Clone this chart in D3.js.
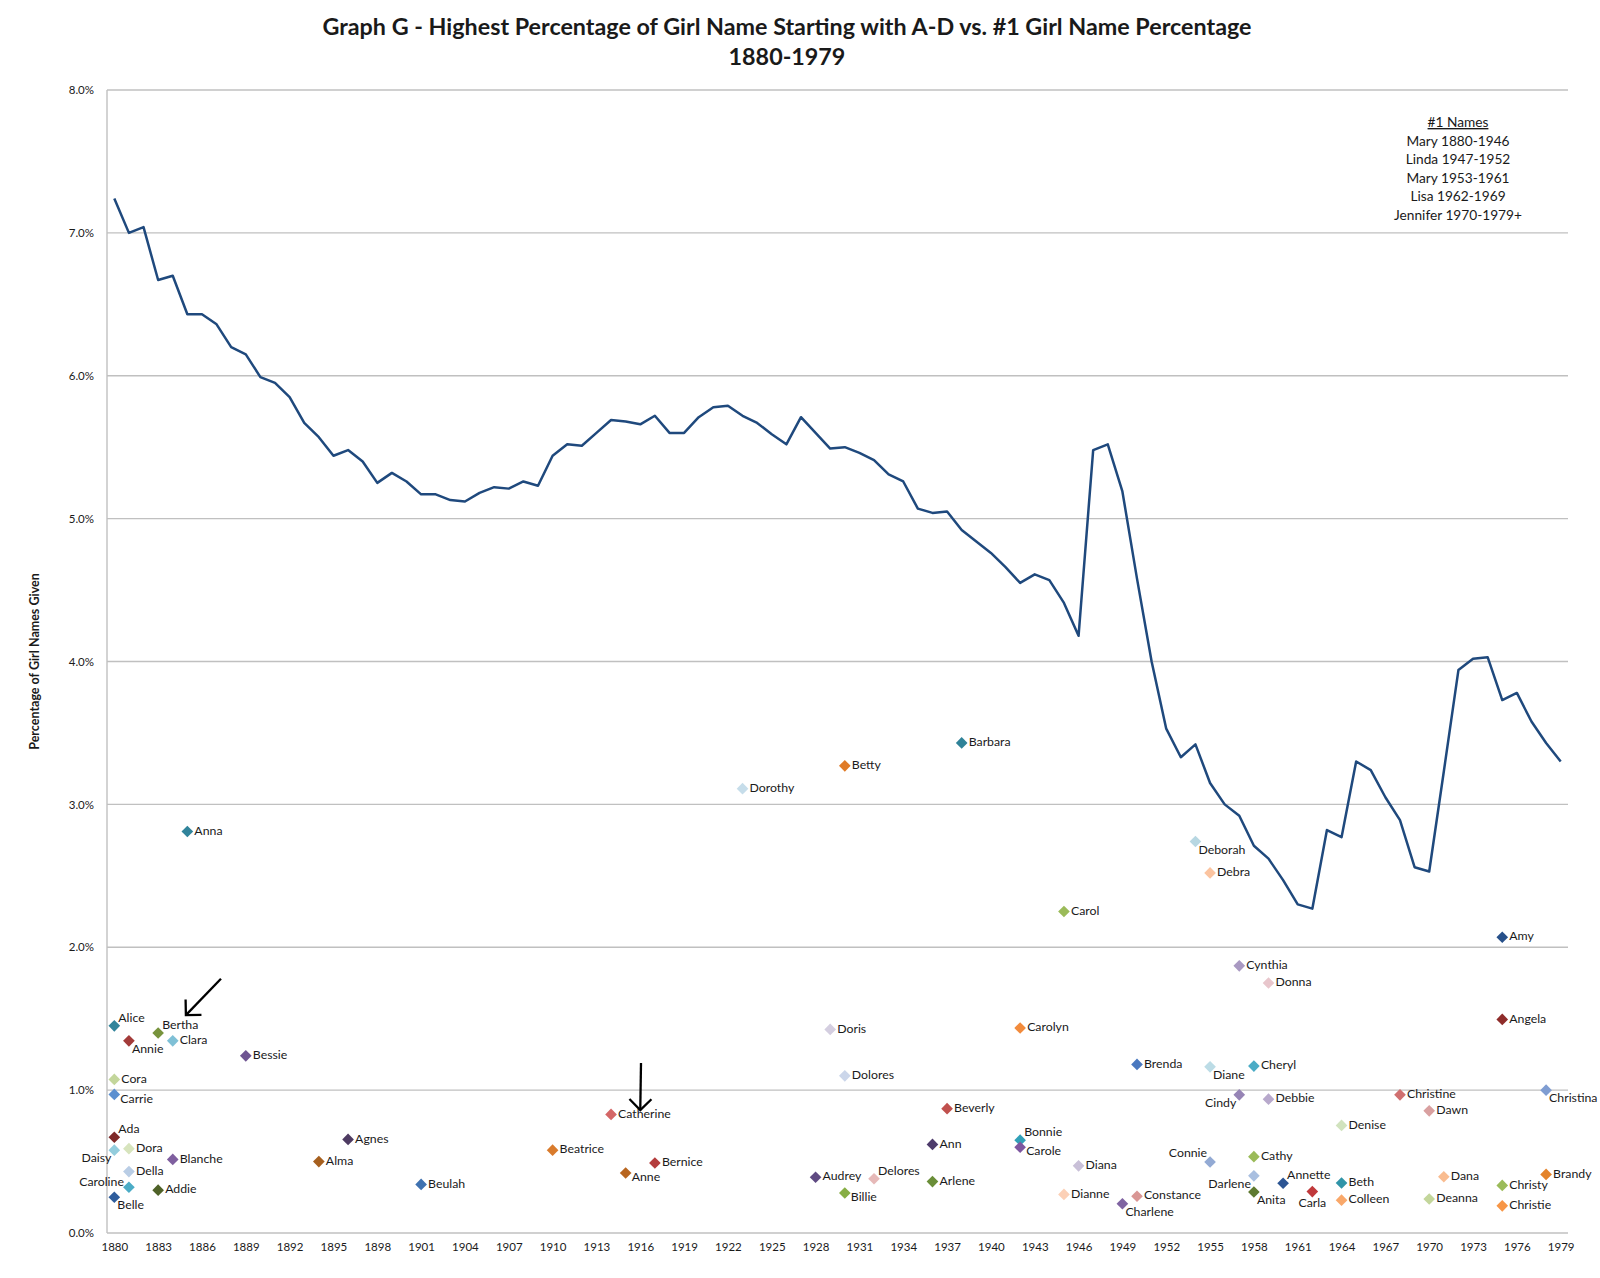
<!DOCTYPE html>
<html lang="en">

<head>
    <meta charset="utf-8">
    <script src="https://d3js.org/d3.v7.min.js"></script>
    <style>
        body { margin: 0; background: #fff; }
        text { font-family: Lato, "Open Sans", sans-serif; fill: #1a1a1a; }
    </style>
</head>

<body>
    <script>
        // #1 girl name share of all girl names, one value per year 1880-1979
        const lineYears = d3.range(1880, 1980);
        const topPct = [
            7.24, 7.00, 7.04, 6.67, 6.70, 6.43, 6.43, 6.36, 6.20, 6.15,
            5.99, 5.95, 5.85, 5.67, 5.57, 5.44, 5.48, 5.40, 5.25, 5.32,
            5.26, 5.17, 5.17, 5.13, 5.12, 5.18, 5.22, 5.21, 5.26, 5.23,
            5.44, 5.52, 5.51, 5.60, 5.69, 5.68, 5.66, 5.72, 5.60, 5.60,
            5.71, 5.78, 5.79, 5.72, 5.67, 5.59, 5.52, 5.71, 5.60, 5.49,
            5.50, 5.46, 5.41, 5.31, 5.26, 5.07, 5.04, 5.05, 4.92, 4.84,
            4.76, 4.66, 4.55, 4.61, 4.57, 4.41, 4.18, 5.48, 5.52, 5.19,
            4.58, 4.00, 3.53, 3.33, 3.42, 3.15, 3.00, 2.92, 2.71, 2.62,
            2.47, 2.30, 2.27, 2.82, 2.77, 3.30, 3.24, 3.05, 2.89, 2.56,
            2.53, 3.23, 3.94, 4.02, 4.03, 3.73, 3.78, 3.58, 3.43, 3.30
        ];

        // A-D names at their peak year
        const peakNames = ['Alice', 'Ada', 'Belle', 'Carrie', 'Cora', 'Daisy', 'Annie', 'Dora', 'Della', 'Caroline',
            'Bertha', 'Addie', 'Clara', 'Blanche', 'Anna', 'Bessie', 'Alma', 'Agnes', 'Beulah', 'Beatrice',
            'Catherine', 'Anne', 'Bernice', 'Dorothy', 'Audrey', 'Doris', 'Betty', 'Dolores', 'Billie', 'Delores',
            'Ann', 'Arlene', 'Beverly', 'Barbara', 'Bonnie', 'Carole', 'Carolyn', 'Carol', 'Dianne', 'Diana',
            'Charlene', 'Brenda', 'Constance', 'Deborah', 'Debra', 'Diane', 'Connie', 'Cynthia', 'Cindy', 'Cheryl',
            'Cathy', 'Darlene', 'Anita', 'Donna', 'Debbie', 'Annette', 'Carla', 'Denise', 'Beth', 'Colleen',
            'Christine', 'Dawn', 'Deanna', 'Dana', 'Amy', 'Angela', 'Christy', 'Christie', 'Christina', 'Brandy'];
        const peakYears = [1880, 1880, 1880, 1880, 1880, 1880, 1881, 1881, 1881, 1881,
            1883, 1883, 1884, 1884, 1885, 1889, 1894, 1896, 1901, 1910,
            1914, 1915, 1917, 1923, 1928, 1929, 1930, 1930, 1930, 1932,
            1936, 1936, 1937, 1938, 1942, 1942, 1942, 1945, 1945, 1946,
            1949, 1950, 1950, 1954, 1955, 1955, 1955, 1957, 1957, 1958,
            1958, 1958, 1958, 1959, 1959, 1960, 1962, 1964, 1964, 1964,
            1968, 1970, 1970, 1971, 1975, 1975, 1975, 1975, 1978, 1978];
        const peakPct = [1.45, 0.67, 0.25, 0.97, 1.075, 0.58, 1.345, 0.59, 0.43, 0.32,
            1.40, 0.30, 1.345, 0.515, 2.81, 1.24, 0.50, 0.655, 0.34, 0.58,
            0.83, 0.42, 0.49, 3.11, 0.39, 1.425, 3.27, 1.10, 0.28, 0.38,
            0.62, 0.36, 0.87, 3.43, 0.65, 0.60, 1.435, 2.25, 0.27, 0.47,
            0.205, 1.18, 0.257, 2.74, 2.52, 1.163, 0.497, 1.87, 0.967, 1.168,
            0.534, 0.40, 0.287, 1.75, 0.937, 0.348, 0.29, 0.753, 0.35, 0.23,
            0.967, 0.855, 0.238, 0.394, 2.07, 1.495, 0.333, 0.19, 1.00, 0.41];

        const yTicks = [0, 1, 2, 3, 4, 5, 6, 7, 8];
        const xTickYears = [1880, 1883, 1886, 1889, 1892, 1895, 1898, 1901, 1904, 1907, 1910, 1913,
            1916, 1919, 1922, 1925, 1928, 1931, 1934, 1937, 1940, 1943, 1946, 1949, 1952, 1955,
            1958, 1961, 1964, 1967, 1970, 1973, 1976, 1979];

        const legendLines = ['Mary 1880-1946', 'Linda 1947-1952', 'Mary 1953-1961', 'Lisa 1962-1969', 'Jennifer 1970-1979+'];

        // marker colours, same order as peakNames
        const nameColors = ['#31849B', '#7F2A28', '#2E5D9C', '#5B8FD0', '#C3D69B', '#93CDDD', '#A33B39', '#D7E4BD', '#B9CDE5', '#4BACC6',
            '#77933C', '#4F6228', '#7FC0D6', '#7F5F9F', '#31849B', '#6F5592', '#A65F1E', '#4E3B62', '#3F72B0', '#D97B2C',
            '#D46666', '#B8651F', '#B43C3C', '#C6DDEA', '#5F4A82', '#D4CEE0', '#E07B27', '#CBD6EA', '#87AE45', '#E6B9B8',
            '#4E3B6B', '#6A8E38', '#C0504D', '#2F8298', '#31A0B8', '#7E57A0', '#F28B3C', '#9BBB59', '#FCD0B6', '#C9C0D8',
            '#8064A2', '#4A78BF', '#D99694', '#B7D7E2', '#FBC4A0', '#BCDCE6', '#93AAD4', '#A999C2', '#9684B5', '#4BACC6',
            '#9BBB59', '#A9BFE0', '#5F7A30', '#E8C6CC', '#B8A9CC', '#2C5593', '#C0393B', '#D1E3BE', '#3094A8', '#F9A86A',
            '#D07070', '#D9A0A0', '#C3D69B', '#F9BC90', '#27508A', '#8E2C2A', '#9BBB59', '#F79646', '#7F9DD2', '#E4832A'];

        // where each label sits around its marker (default: right)
        const labelSpots = {
            Alice: 'tr', Ada: 'tr', Belle: 'br', Carrie: 'rb', Daisy: 'bl', Annie: 'br', Caroline: 'lt',
            Bertha: 'tr', Anne: 'rb', Billie: 'rb', Delores: 'tr', Bonnie: 'tr', Carole: 'rb',
            Charlene: 'br', Deborah: 'br', Diane: 'br', Connie: 'tl', Cindy: 'bl', Darlene: 'bl',
            Anita: 'br', Annette: 'tr', Carla: 'b', Christina: 'br'
        };
        const spotOffsets = {
            r: [7, 0, 'start'], rb: [6, 5, 'start'], br: [3, 9, 'start'], tr: [4, -7, 'start'],
            bl: [-3, 9, 'end'], tl: [-3, -8, 'end'], lt: [-5, -4, 'end'], b: [0, 12, 'middle']
        };

        // hand drawn arrows, [year, pct] from -> to
        const arrowNotes = [
            { from: [1887.3, 1.78], to: [1884.9, 1.525] },
            { from: [1916.05, 1.19], to: [1916.0, 0.86] }
        ];

        const margin = { top: 90, right: 32, bottom: 45, left: 107 };
        const w = 1600 - margin.left - margin.right;
        const h = 1278 - margin.top - margin.bottom;

        const xScale = d3.scalePoint()
            .domain(lineYears)
            .range([0, w])
            .padding(0.5);

        // fractional years for the annotations
        const xAt = (yr) => xScale(1880) + (yr - 1880) * xScale.step();

        const yScale = d3.scaleLinear()
            .domain([0, 8])
            .range([h, 0]);

        const root = d3.select('body').append('svg')
            .attr('width', 1600)
            .attr('height', 1278);

        root.append('defs').append('marker')
            .attr('id', 'head')
            .attr('viewBox', '-14 -14 16 28')
            .attr('markerWidth', 16)
            .attr('markerHeight', 28)
            .attr('markerUnits', 'userSpaceOnUse')
            .attr('refX', 0)
            .attr('refY', 0)
            .attr('orient', 'auto')
            .append('path')
            .attr('d', 'M-11,-11L0,0L-11,11')
            .attr('fill', 'none')
            .attr('stroke', '#000')
            .attr('stroke-width', 2.3);

        // title
        root.append('text')
            .attr('x', 787)
            .attr('y', 35)
            .attr('text-anchor', 'middle')
            .style('font-size', '23.3px')
            .style('font-weight', 'bold')
            .text('Graph G - Highest Percentage of Girl Name Starting with A-D vs. #1 Girl Name Percentage');
        root.append('text')
            .attr('x', 787)
            .attr('y', 65)
            .attr('text-anchor', 'middle')
            .style('font-size', '23.3px')
            .style('font-weight', 'bold')
            .text('1880-1979');

        root.append('text')
            .attr('transform', 'translate(36,' + (margin.top + h / 2) + ') rotate(-90)')
            .attr('text-anchor', 'middle')
            .attr('dominant-baseline', 'middle')
            .style('font-size', '12.5px')
            .style('font-weight', 'bold')
            .text('Percentage of Girl Names Given');

        const svg = root.append('g')
            .attr('transform', 'translate(' + margin.left + ',' + margin.top + ')');

        // gridlines
        svg.append('g')
            .selectAll('line')
            .data(yTicks)
            .enter()
            .append('line')
            .attr('x1', 0)
            .attr('x2', w)
            .attr('y1', d => yScale(d))
            .attr('y2', d => yScale(d))
            .attr('stroke', '#C0C0C0')
            .attr('stroke-width', 1.4);

        svg.append('line')
            .attr('x1', 0).attr('x2', 0)
            .attr('y1', 0).attr('y2', h)
            .attr('stroke', '#C0C0C0')
            .attr('stroke-width', 1.4);

        const yAxis = d3.axisLeft(yScale)
            .tickValues(yTicks)
            .tickFormat(d => d.toFixed(1) + '%')
            .tickSize(0)
            .tickPadding(13);

        svg.append('g')
            .attr('id', 'y-axis')
            .call(yAxis)
            .call(g => g.select('.domain').remove())
            .selectAll('text')
            .style('font-size', '11.5px');

        const xAxis = d3.axisBottom(xScale)
            .tickValues(xTickYears)
            .tickSize(0)
            .tickPadding(10);

        svg.append('g')
            .attr('id', 'x-axis')
            .attr('transform', 'translate(0,' + h + ')')
            .call(xAxis)
            .call(g => g.select('.domain').remove())
            .selectAll('text')
            .style('font-size', '11.5px');

        // #1 name line
        const line = d3.line()
            .x((d, i) => xScale(lineYears[i]))
            .y(d => yScale(d));

        svg.append('path')
            .datum(topPct)
            .attr('d', line)
            .attr('fill', 'none')
            .attr('stroke', '#1F497D')
            .attr('stroke-width', 2.5)
            .attr('stroke-linejoin', 'round');

        // peak A-D names
        const diamond = d3.symbol().type(d3.symbolSquare).size(68);

        const pts = svg.append('g')
            .selectAll('g')
            .data(peakNames)
            .enter()
            .append('g')
            .attr('transform', (d, i) => 'translate(' + xScale(peakYears[i]) + ',' + yScale(peakPct[i]) + ')');

        pts.append('path')
            .attr('d', diamond)
            .attr('transform', 'rotate(45)')
            .attr('fill', (d, i) => nameColors[i]);

        pts.append('text')
            .attr('x', d => spotOffsets[labelSpots[d] || 'r'][0])
            .attr('y', d => spotOffsets[labelSpots[d] || 'r'][1])
            .attr('text-anchor', d => spotOffsets[labelSpots[d] || 'r'][2])
            .attr('dominant-baseline', 'middle')
            .style('font-size', '12.3px')
            .text(d => d);

        // arrows
        svg.append('g')
            .selectAll('line')
            .data(arrowNotes)
            .enter()
            .append('line')
            .attr('x1', d => xAt(d.from[0]))
            .attr('y1', d => yScale(d.from[1]))
            .attr('x2', d => xAt(d.to[0]))
            .attr('y2', d => yScale(d.to[1]))
            .attr('stroke', '#000')
            .attr('stroke-width', 2.3)
            .attr('marker-end', 'url(#head)');

        // #1 names note
        const note = root.append('g')
            .attr('transform', 'translate(1458,0)')
            .style('font-size', '13.7px');
        note.append('text')
            .attr('y', 127)
            .attr('text-anchor', 'middle')
            .style('text-decoration', 'underline')
            .text('#1 Names');
        note.selectAll('.entry')
            .data(legendLines)
            .enter()
            .append('text')
            .attr('class', 'entry')
            .attr('y', (d, i) => 146 + i * 18.4)
            .attr('text-anchor', 'middle')
            .text(d => d);
    </script>
</body>

</html>
